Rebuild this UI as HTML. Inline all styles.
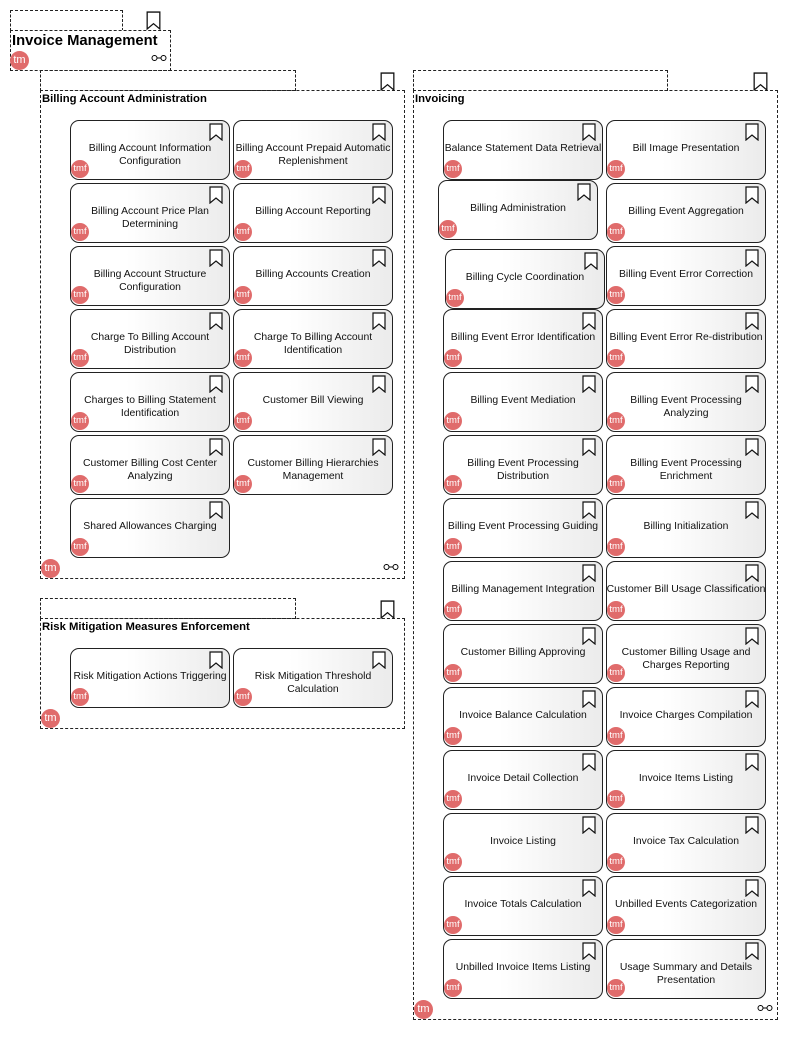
<!DOCTYPE html>
<html><head><meta charset="utf-8"><style>
body{margin:0;width:786px;height:1050px;background:#fff;position:relative;overflow:hidden;font-family:"Liberation Sans",sans-serif}
.d{position:absolute;border:1px dashed #222;box-sizing:border-box}
.t{position:absolute;font-weight:bold;font-size:11.3px;color:#000}
.b{position:absolute;width:160px;height:60px;box-sizing:border-box;border:1px solid #222;border-radius:9px;background:linear-gradient(90deg,#fff 35%,#ebebeb);display:flex;align-items:flex-start;justify-content:center;text-align:center;font-size:10.4px;line-height:13px;color:#111;padding-top:21px}
.b span{display:block;white-space:nowrap}
.bm{position:absolute;right:6px;top:2px}
.b i,.c{position:absolute;left:0;bottom:1px;width:18px;height:18px;border-radius:50%;background:#e06b6b;color:#fff;font-style:normal;font-size:9.5px;line-height:18px;text-align:center;overflow:hidden}
.c{width:19px;height:19px;line-height:19px;font-size:11px}
</style></head><body>
<svg width="0" height="0" style="position:absolute"><defs><symbol id="bk" viewBox="0 0 14 18"><path d="M1 1H13V17L7 12L1 17Z" fill="#fff" stroke="#111" stroke-width="1.2"/></symbol></defs></svg>

<!-- Invoice Management -->
<div class="d" style="left:10px;top:10px;width:113px;height:21px"></div>
<div class="d" style="left:10px;top:30px;width:161px;height:41px;background:#fff"></div>
<svg style="position:absolute;left:146px;top:11px" width="15" height="19"><use href="#bk"/></svg>
<div class="t" style="left:12px;top:33px;font-size:14.8px">Invoice Management</div>
<div class="c" style="left:10px;top:51px">tm</div>
<svg style="position:absolute;left:151px;top:54px" width="16" height="8"><circle cx="3.5" cy="4" r="2.5" fill="none" stroke="#000"/><circle cx="12.5" cy="4" r="2.5" fill="none" stroke="#000"/><line x1="6" y1="4" x2="10" y2="4" stroke="#000"/></svg>

<!-- Billing Account Administration -->
<div class="d" style="left:40px;top:70px;width:256px;height:21px"></div>
<div class="d" style="left:40px;top:90px;width:365px;height:489px"></div>
<svg style="position:absolute;left:380px;top:72px" width="15" height="19"><use href="#bk"/></svg>
<div class="t" style="left:42px;top:93px">Billing Account Administration</div>
<div class="c" style="left:41px;top:559px">tm</div>
<svg style="position:absolute;left:383px;top:563px" width="16" height="8"><circle cx="3.5" cy="4" r="2.5" fill="none" stroke="#000"/><circle cx="12.5" cy="4" r="2.5" fill="none" stroke="#000"/><line x1="6" y1="4" x2="10" y2="4" stroke="#000"/></svg>

<div class="b" style="left:70px;top:120px"><span>Billing Account Information<br>Configuration</span><svg class="bm" width="14" height="18"><use href="#bk"/></svg><i>tmf</i></div>
<div class="b" style="left:233px;top:120px"><span>Billing Account Prepaid Automatic<br>Replenishment</span><svg class="bm" width="14" height="18"><use href="#bk"/></svg><i>tmf</i></div>
<div class="b" style="left:70px;top:183px"><span>Billing Account Price Plan<br>Determining</span><svg class="bm" width="14" height="18"><use href="#bk"/></svg><i>tmf</i></div>
<div class="b" style="left:233px;top:183px"><span>Billing Account Reporting</span><svg class="bm" width="14" height="18"><use href="#bk"/></svg><i>tmf</i></div>
<div class="b" style="left:70px;top:246px"><span>Billing Account Structure<br>Configuration</span><svg class="bm" width="14" height="18"><use href="#bk"/></svg><i>tmf</i></div>
<div class="b" style="left:233px;top:246px"><span>Billing Accounts Creation</span><svg class="bm" width="14" height="18"><use href="#bk"/></svg><i>tmf</i></div>
<div class="b" style="left:70px;top:309px"><span>Charge To Billing Account<br>Distribution</span><svg class="bm" width="14" height="18"><use href="#bk"/></svg><i>tmf</i></div>
<div class="b" style="left:233px;top:309px"><span>Charge To Billing Account<br>Identification</span><svg class="bm" width="14" height="18"><use href="#bk"/></svg><i>tmf</i></div>
<div class="b" style="left:70px;top:372px"><span>Charges to Billing Statement<br>Identification</span><svg class="bm" width="14" height="18"><use href="#bk"/></svg><i>tmf</i></div>
<div class="b" style="left:233px;top:372px"><span>Customer Bill Viewing</span><svg class="bm" width="14" height="18"><use href="#bk"/></svg><i>tmf</i></div>
<div class="b" style="left:70px;top:435px"><span>Customer Billing Cost Center<br>Analyzing</span><svg class="bm" width="14" height="18"><use href="#bk"/></svg><i>tmf</i></div>
<div class="b" style="left:233px;top:435px"><span>Customer Billing Hierarchies<br>Management</span><svg class="bm" width="14" height="18"><use href="#bk"/></svg><i>tmf</i></div>
<div class="b" style="left:70px;top:498px"><span>Shared Allowances Charging</span><svg class="bm" width="14" height="18"><use href="#bk"/></svg><i>tmf</i></div>

<!-- Risk Mitigation -->
<div class="d" style="left:40px;top:598px;width:256px;height:21px"></div>
<div class="d" style="left:40px;top:618px;width:365px;height:111px"></div>
<svg style="position:absolute;left:380px;top:600px" width="15" height="19"><use href="#bk"/></svg>
<div class="t" style="left:42px;top:621px">Risk Mitigation Measures Enforcement</div>
<div class="c" style="left:41px;top:709px">tm</div>
<div class="b" style="left:70px;top:648px"><span>Risk Mitigation Actions Triggering</span><svg class="bm" width="14" height="18"><use href="#bk"/></svg><i>tmf</i></div>
<div class="b" style="left:233px;top:648px"><span>Risk Mitigation Threshold<br>Calculation</span><svg class="bm" width="14" height="18"><use href="#bk"/></svg><i>tmf</i></div>

<!-- Invoicing -->
<div class="d" style="left:413px;top:70px;width:255px;height:21px"></div>
<div class="d" style="left:413px;top:90px;width:365px;height:930px"></div>
<svg style="position:absolute;left:753px;top:72px" width="15" height="19"><use href="#bk"/></svg>
<div class="t" style="left:415px;top:93px">Invoicing</div>
<div class="c" style="left:414px;top:1000px">tm</div>
<svg style="position:absolute;left:757px;top:1004px" width="16" height="8"><circle cx="3.5" cy="4" r="2.5" fill="none" stroke="#000"/><circle cx="12.5" cy="4" r="2.5" fill="none" stroke="#000"/><line x1="6" y1="4" x2="10" y2="4" stroke="#000"/></svg>

<div class="b" style="left:443px;top:120px"><span>Balance Statement Data Retrieval</span><svg class="bm" width="14" height="18"><use href="#bk"/></svg><i>tmf</i></div>
<div class="b" style="left:606px;top:120px"><span>Bill Image Presentation</span><svg class="bm" width="14" height="18"><use href="#bk"/></svg><i>tmf</i></div>
<div class="b" style="left:438px;top:180px"><span>Billing Administration</span><svg class="bm" width="14" height="18"><use href="#bk"/></svg><i>tmf</i></div>
<div class="b" style="left:606px;top:183px"><span>Billing Event Aggregation</span><svg class="bm" width="14" height="18"><use href="#bk"/></svg><i>tmf</i></div>
<div class="b" style="left:445px;top:249px"><span>Billing Cycle Coordination</span><svg class="bm" width="14" height="18"><use href="#bk"/></svg><i>tmf</i></div>
<div class="b" style="left:606px;top:246px"><span>Billing Event Error Correction</span><svg class="bm" width="14" height="18"><use href="#bk"/></svg><i>tmf</i></div>
<div class="b" style="left:443px;top:309px"><span>Billing Event Error Identification</span><svg class="bm" width="14" height="18"><use href="#bk"/></svg><i>tmf</i></div>
<div class="b" style="left:606px;top:309px"><span>Billing Event Error Re-distribution</span><svg class="bm" width="14" height="18"><use href="#bk"/></svg><i>tmf</i></div>
<div class="b" style="left:443px;top:372px"><span>Billing Event Mediation</span><svg class="bm" width="14" height="18"><use href="#bk"/></svg><i>tmf</i></div>
<div class="b" style="left:606px;top:372px"><span>Billing Event Processing<br>Analyzing</span><svg class="bm" width="14" height="18"><use href="#bk"/></svg><i>tmf</i></div>
<div class="b" style="left:443px;top:435px"><span>Billing Event Processing<br>Distribution</span><svg class="bm" width="14" height="18"><use href="#bk"/></svg><i>tmf</i></div>
<div class="b" style="left:606px;top:435px"><span>Billing Event Processing<br>Enrichment</span><svg class="bm" width="14" height="18"><use href="#bk"/></svg><i>tmf</i></div>
<div class="b" style="left:443px;top:498px"><span>Billing Event Processing Guiding</span><svg class="bm" width="14" height="18"><use href="#bk"/></svg><i>tmf</i></div>
<div class="b" style="left:606px;top:498px"><span>Billing Initialization</span><svg class="bm" width="14" height="18"><use href="#bk"/></svg><i>tmf</i></div>
<div class="b" style="left:443px;top:561px"><span>Billing Management Integration</span><svg class="bm" width="14" height="18"><use href="#bk"/></svg><i>tmf</i></div>
<div class="b" style="left:606px;top:561px"><span>Customer Bill Usage Classification</span><svg class="bm" width="14" height="18"><use href="#bk"/></svg><i>tmf</i></div>
<div class="b" style="left:443px;top:624px"><span>Customer Billing Approving</span><svg class="bm" width="14" height="18"><use href="#bk"/></svg><i>tmf</i></div>
<div class="b" style="left:606px;top:624px"><span>Customer Billing Usage and<br>Charges Reporting</span><svg class="bm" width="14" height="18"><use href="#bk"/></svg><i>tmf</i></div>
<div class="b" style="left:443px;top:687px"><span>Invoice Balance Calculation</span><svg class="bm" width="14" height="18"><use href="#bk"/></svg><i>tmf</i></div>
<div class="b" style="left:606px;top:687px"><span>Invoice Charges Compilation</span><svg class="bm" width="14" height="18"><use href="#bk"/></svg><i>tmf</i></div>
<div class="b" style="left:443px;top:750px"><span>Invoice Detail Collection</span><svg class="bm" width="14" height="18"><use href="#bk"/></svg><i>tmf</i></div>
<div class="b" style="left:606px;top:750px"><span>Invoice Items Listing</span><svg class="bm" width="14" height="18"><use href="#bk"/></svg><i>tmf</i></div>
<div class="b" style="left:443px;top:813px"><span>Invoice Listing</span><svg class="bm" width="14" height="18"><use href="#bk"/></svg><i>tmf</i></div>
<div class="b" style="left:606px;top:813px"><span>Invoice Tax Calculation</span><svg class="bm" width="14" height="18"><use href="#bk"/></svg><i>tmf</i></div>
<div class="b" style="left:443px;top:876px"><span>Invoice Totals Calculation</span><svg class="bm" width="14" height="18"><use href="#bk"/></svg><i>tmf</i></div>
<div class="b" style="left:606px;top:876px"><span>Unbilled Events Categorization</span><svg class="bm" width="14" height="18"><use href="#bk"/></svg><i>tmf</i></div>
<div class="b" style="left:443px;top:939px"><span>Unbilled Invoice Items Listing</span><svg class="bm" width="14" height="18"><use href="#bk"/></svg><i>tmf</i></div>
<div class="b" style="left:606px;top:939px"><span>Usage Summary and Details<br>Presentation</span><svg class="bm" width="14" height="18"><use href="#bk"/></svg><i>tmf</i></div>
</body></html>
